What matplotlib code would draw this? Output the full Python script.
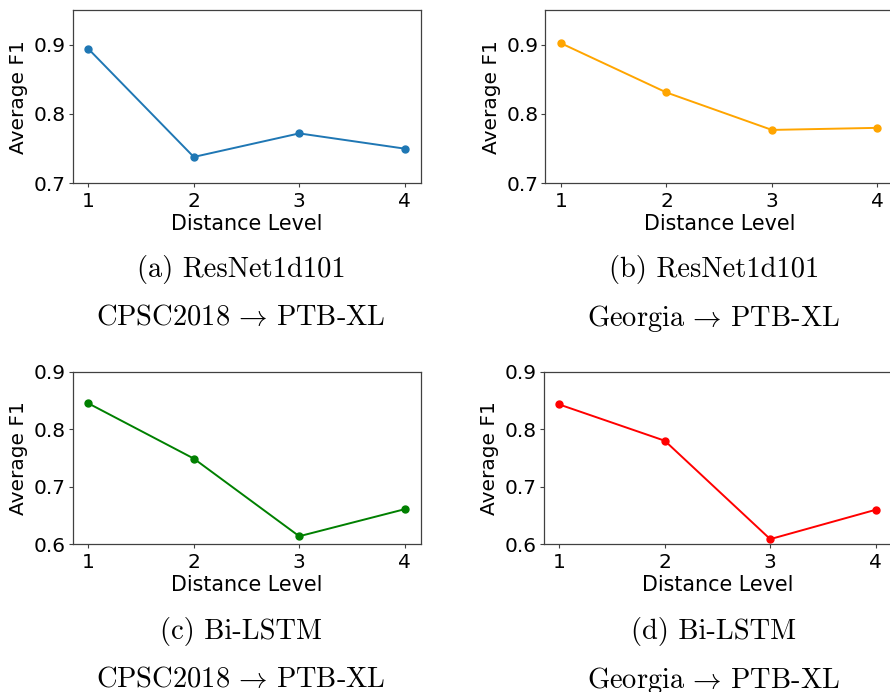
import matplotlib
matplotlib.use("Agg")
import matplotlib.pyplot as plt

# data
distance_levels = [1, 2, 3, 4]
f1_resnet_cpsc = [0.894, 0.738, 0.772, 0.750]
f1_resnet_georgia = [0.902, 0.831, 0.777, 0.780]
f1_lstm_cpsc = [0.845, 0.749, 0.614, 0.661]
f1_lstm_georgia = [0.843, 0.780, 0.609, 0.660]

panel_models = ["ResNet1d101", "ResNet1d101", "Bi-LSTM", "Bi-LSTM"]
panel_sources = ["CPSC2018", "Georgia", "CPSC2018", "Georgia"]
panel_tags = ["(a)", "(b)", "(c)", "(d)"]
panel_colors = ["#1f77b4", "orange", "green", "red"]
panel_yticks = [[0.7, 0.8, 0.9], [0.7, 0.8, 0.9],
                [0.6, 0.7, 0.8, 0.9], [0.6, 0.7, 0.8, 0.9]]
panel_ylims = [(0.7, 0.95), (0.7, 0.95), (0.6, 0.9), (0.6, 0.9)]


def main():
    plt.rcParams["mathtext.fontset"] = "cm"
    fig = plt.figure(figsize=(8.9, 6.92), dpi=100)

    W, H = 890.0, 692.0
    # axes boxes in pixels: left, top, right, bottom
    boxes = [(72.5, 10, 420.5, 183.3),
             (545.2, 10, 893.2, 183.3),
             (72.5, 371.7, 420.5, 544.3),
             (543.5, 371.7, 891.5, 544.3)]
    # caption centers (x, y line1, y line2)
    captions = [(241, 270, 318), (714, 270, 318),
                (241, 632, 680), (714, 632, 680)]

    series = [f1_resnet_cpsc, f1_resnet_georgia, f1_lstm_cpsc, f1_lstm_georgia]

    for i in range(4):
        l, t, r, b = boxes[i]
        ax = fig.add_axes([l / W, 1 - b / H, (r - l) / W, (b - t) / H])
        ax.plot(distance_levels, series[i], marker="o", markersize=5,
                linewidth=1.4, color=panel_colors[i])
        ax.set_ylim(*panel_ylims[i])
        ax.set_yticks(panel_yticks[i])
        ax.set_xticks(distance_levels)
        ax.set_xlabel("Distance Level", fontsize=14.9, labelpad=2.5)
        ax.set_ylabel("Average F1", fontsize=14.5, labelpad=4)
        ax.tick_params(labelsize=14.5, length=3, width=0.8, color="#404040")
        ax.tick_params(axis="x", pad=3)
        ax.tick_params(axis="y", pad=2)
        for sp in ax.spines.values():
            sp.set_color("#404040")
            sp.set_linewidth(0.9)

        cx, y1, y2 = captions[i]
        fig.text(cx / W, 1 - y1 / H, f"{panel_tags[i]} {panel_models[i]}",
                 family="cmr10", fontsize=20.5, ha="center", va="center")
        fig.text(cx / W, 1 - y2 / H,
                 panel_sources[i] + r"$\,\rightarrow\,$PTB-XL",
                 family="cmr10", fontsize=20.5, ha="center", va="center")

    fig.savefig("out.png", dpi=100)


if __name__ == "__main__":
    main()
